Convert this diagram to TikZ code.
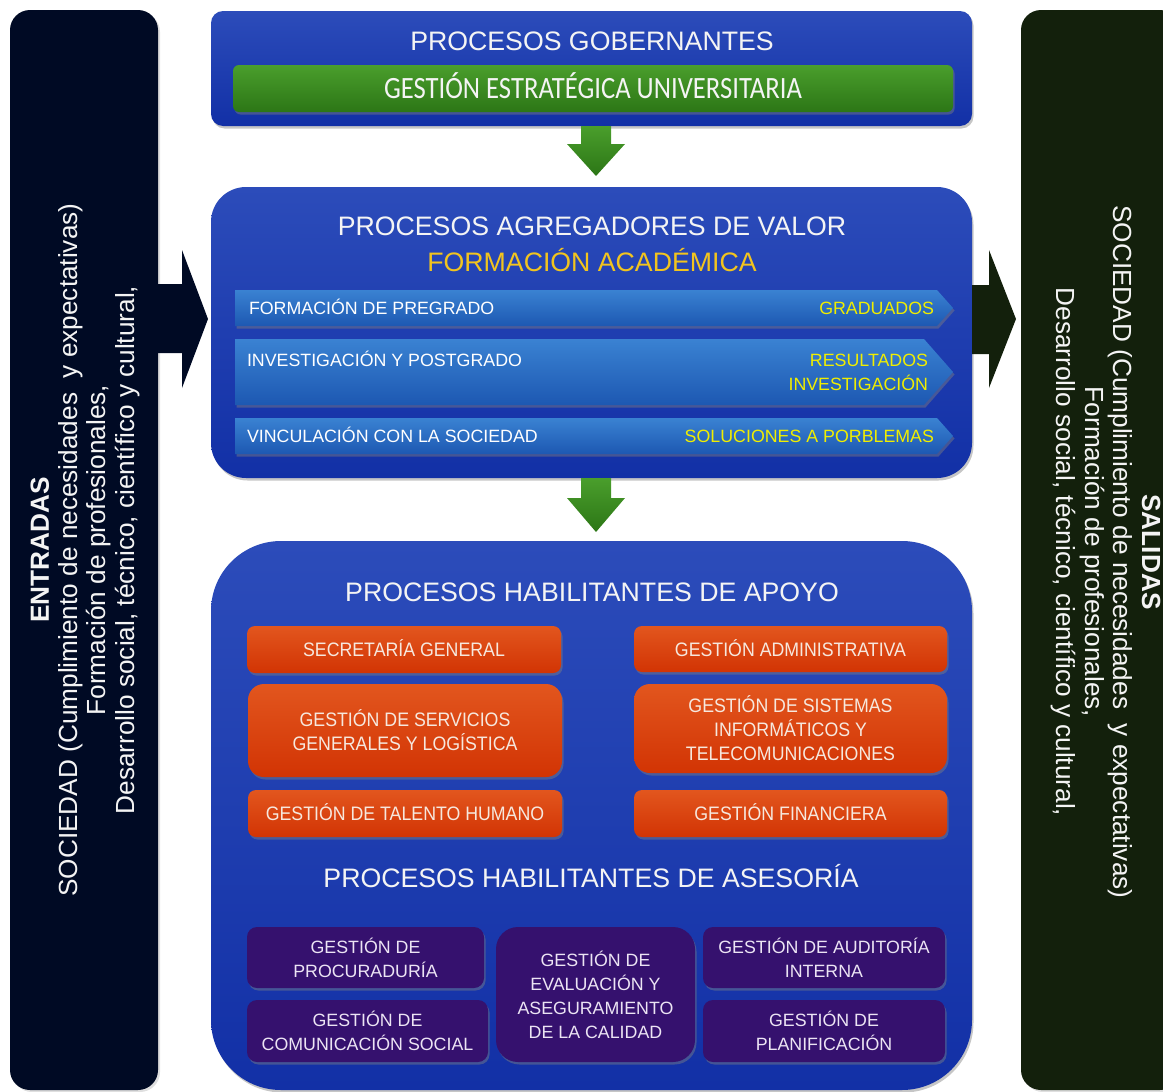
\documentclass[tikz,border=0pt]{standalone}
\usepackage{fontspec}
\setmainfont{Liberation Sans}
\newfontfamily\narrowfont[FakeStretch=0.91]{Liberation Sans}
\newfontfamily\calibri[FakeStretch=0.86]{Carlito}
\usetikzlibrary{fit,shadows}

\definecolor{entradabg}{HTML}{000A24}
\definecolor{salidabg}{HTML}{13200C}
\definecolor{azularriba}{HTML}{2C4CBA}
\definecolor{azulabajo}{HTML}{1230A6}
\definecolor{verdearriba}{HTML}{4A9E2C}
\definecolor{verdeabajo}{HTML}{2C7616}
\definecolor{cheverriba}{HTML}{3A82D2}
\definecolor{chevabajo}{HTML}{1D58B2}
\definecolor{naranjarriba}{HTML}{E2561E}
\definecolor{naranjabajo}{HTML}{D23404}
\definecolor{morado}{HTML}{35116E}
\definecolor{amarillo}{HTML}{F0EE00}
\definecolor{dorado}{HTML}{F2C41E}
\definecolor{blanco}{HTML}{F4F4F4}
\definecolor{crema}{HTML}{F6E8DE}
\definecolor{lila}{HTML}{ECE4F4}

\begin{document}
\begin{tikzpicture}[x=1pt, y=-1pt,
    every node/.style={inner sep=0pt, outer sep=0pt},
    caja/.style 2 args={minimum width=#1pt, minimum height=#2pt},
    sombra/.style={drop shadow={opacity=0.45, shadow xshift=1.5pt, shadow yshift=-2.5pt}},
    barra/.style={rounded corners=20pt, fill=#1, drop shadow={opacity=0.25, shadow xshift=2pt, shadow yshift=-2pt}},
    panel/.style={rounded corners=#1, top color=azularriba, bottom color=azulabajo, sombra},
    lado/.style={text=blanco, align=center, font=\fontsize{26.2}{28.4}\selectfont},
    titulo/.style={text=blanco, font=\fontsize{26.7}{32}\selectfont, text height=19pt, text depth=0pt},
    estrategia/.style={rounded corners=6pt, top color=verdearriba, bottom color=verdeabajo, text=blanco, font=\calibri\fontsize{31}{36}\selectfont, text height=20pt, text depth=0pt, sombra},
    flecha/.style={top color=verdearriba, bottom color=verdeabajo},
    chevron/.style={top color=cheverriba, bottom color=chevabajo, sombra},
    chevtxt/.style={text=white, font=\fontsize{17.8}{24}\selectfont},
    chevuna/.style={chevtxt, text height=12.8pt, text depth=0pt},
    apoyo/.style={rounded corners=#1, top color=naranjarriba, bottom color=naranjabajo, text=crema, align=center, font=\narrowfont\fontsize{19.5}{24}\selectfont, sombra},
    apoyo/.default=8pt,
    unalinea/.style={text height=14pt, text depth=0pt},
    asesoria/.style={rounded corners=#1, fill=morado, text=lila, align=center, font=\fontsize{17.8}{24}\selectfont, sombra},
    asesoria/.default=10pt
]
\useasboundingbox (0,0) rectangle (1163,1092);

\node[barra=entradabg, fit={(10,10) (158,1090)}] (entradas) {};
\node[barra=salidabg, fit={(1021,10) (1180,1090)}] (salidas) {};
\node[lado, rotate=90] (textoentradas) at (85,550) {\textbf{ENTRADAS}\\SOCIEDAD (Cumplimiento de necesidades\ \ y expectativas)\\Formación de profesionales,\\Desarrollo social, técnico, científico y cultural,};
\node[lado, rotate=-90] (textosalidas) at (1106,552) {\textbf{SALIDAS}\\SOCIEDAD (Cumplimiento de necesidades\ \ y expectativas)\\Formación de profesionales,\\Desarrollo social, técnico, científico y cultural,};

\node[panel=12pt, fit={(211,11) (972,126)}] (gobernantes) {};
\node[panel=35pt, fit={(211,187) (972,478)}] (agregadores) {};
\node[panel=70pt, fit={(211,541) (972,1090)}] (habilitantes) {};

% flechas de entrada y salida
\fill[entradabg] (entradas.east |- 0,284) -- ++(24,0) -- ++(0,-34) -- ++(26,69) -- ++(-26,69) -- ++(0,-35) -- ++(-24,0) -- cycle;
\fill[salidabg] (agregadores.east |- 0,285) -- ++(17,0) -- ++(0,-35) -- ++(27,69) -- ++(-27,69) -- ++(0,-34) -- ++(-17,0) -- cycle;

% flechas verdes entre procesos
\shade[flecha] ([xshift=-10.5pt]gobernantes.south) -- ++(30,0) -- ++(0,18) -- ++(14,0) -- ++(-29,32) -- ++(-29,-32) -- ++(14,0) -- cycle;
\shade[flecha] ([xshift=-10.5pt]agregadores.south) -- ++(30,0) -- ++(0,20) -- ++(14,0) -- ++(-29,34) -- ++(-29,-34) -- ++(14,0) -- cycle;

\node[titulo] (tgob) at (592,41) {PROCESOS GOBERNANTES};
\node[estrategia, caja={720}{47}] (estrategica) at (593,88.5) {GESTIÓN ESTRATÉGICA UNIVERSITARIA};

\node[titulo] (tagreg) at (592,226) {PROCESOS AGREGADORES DE VALOR};
\node[titulo, text=dorado] (tformacion) at (592,262) {FORMACIÓN ACADÉMICA};

\shade[chevron] (235,290) -- (937,290) -- (953,308) -- (937,326) -- (235,326) -- cycle;
\shade[chevron] (235,339) -- (924,339) -- (953,372) -- (924,405) -- (235,405) -- cycle;
\shade[chevron] (235,418) -- (937,418) -- (953,436) -- (937,454) -- (235,454) -- cycle;
\node[chevuna, anchor=west] (pregrado) at (249,308) {FORMACIÓN DE PREGRADO};
\node[chevuna, text=amarillo, anchor=east] (graduados) at (934,308) {GRADUADOS};
\node[chevuna, anchor=west] (investigacion) at (247,360) {INVESTIGACIÓN Y POSTGRADO};
\node[chevtxt, text=amarillo, align=right, anchor=east] (resultados) at (928,372) {RESULTADOS\\INVESTIGACIÓN};
\node[chevuna, anchor=west] (vinculacion) at (247,436) {VINCULACIÓN CON LA SOCIEDAD};
\node[chevuna, text=amarillo, anchor=east] (soluciones) at (934,436) {SOLUCIONES A PORBLEMAS};

\node[titulo] (tapoyo) at (592,592) {PROCESOS HABILITANTES DE APOYO};
\node[apoyo, unalinea, caja={314}{47}] (secretaria) at (404,649.5) {SECRETARÍA GENERAL};
\node[apoyo, unalinea, caja={313}{46}] (administrativa) at (790.5,649) {GESTIÓN ADMINISTRATIVA};
\node[apoyo=16pt, caja={314}{93}] (servicios) at (405,730.5) {GESTIÓN DE SERVICIOS\\GENERALES Y LOGÍSTICA};
\node[apoyo=16pt, caja={313}{89}] (sistemas) at (790.5,728.5) {GESTIÓN DE SISTEMAS\\INFORMÁTICOS Y\\TELECOMUNICACIONES};
\node[apoyo, unalinea, caja={314}{47}] (talento) at (405,813.5) {GESTIÓN DE TALENTO HUMANO};
\node[apoyo, unalinea, caja={313}{47}] (financiera) at (790.5,813.5) {GESTIÓN FINANCIERA};

\node[titulo] (tasesoria) at (591,878) {PROCESOS HABILITANTES DE ASESORÍA};
\node[asesoria, caja={237}{61}] (procuraduria) at (365.5,957.5) {GESTIÓN DE\\PROCURADURÍA};
\node[asesoria, caja={241}{62}] (comunicacion) at (367.5,1031) {GESTIÓN DE\\COMUNICACIÓN SOCIAL};
\node[asesoria=22pt, caja={199}{135}] (calidad) at (595.5,994.5) {GESTIÓN DE\\EVALUACIÓN Y\\ASEGURAMIENTO\\DE LA CALIDAD};
\node[asesoria, caja={242}{61}] (auditoria) at (824,957.5) {GESTIÓN DE AUDITORÍA\\INTERNA};
\node[asesoria, caja={242}{62}] (planificacion) at (824,1031) {GESTIÓN DE\\PLANIFICACIÓN};
\end{tikzpicture}
\end{document}
